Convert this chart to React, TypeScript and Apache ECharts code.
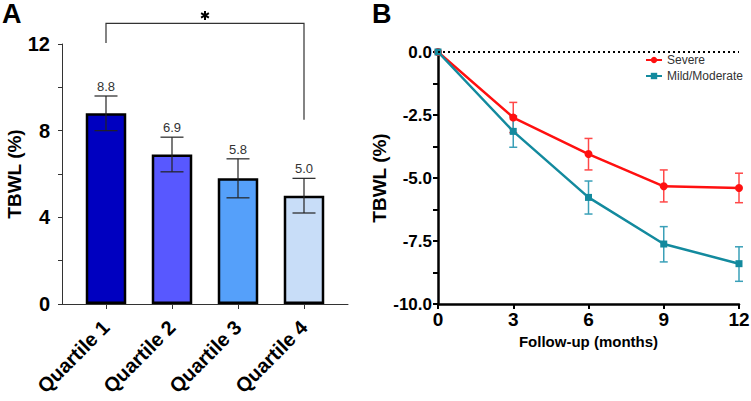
import React, { useEffect, useRef } from "react";
import * as echarts from "echarts";

const categories = ["Quartile 1", "Quartile 2", "Quartile 3", "Quartile 4"];
const quartileMeans = [8.8, 6.9, 5.8, 5.0];
const quartileLow = [8.0, 6.1, 4.9, 4.2];
const quartileHigh = [9.6, 7.7, 6.7, 5.8];
const quartileColors = ["#0000C0", "#5858FF", "#55A0FA", "#C8DDF8"];
const quartileTicks = [0, 4, 8, 12];
// significance bracket: [from index, to index, left leg bottom, bracket top, right leg bottom]
const bracket = [0, 3, 12.05, 12.95, 8.5];

const months = [0, 3, 6, 9, 12];
const severeMean = [0, -2.6, -4.05, -5.33, -5.4];
const severeLow = [0, -3.2, -4.68, -5.95, -5.98];
const severeHigh = [0, -2.0, -3.43, -4.68, -4.81];
const mildMean = [0, -3.15, -5.77, -7.62, -8.4];
const mildLow = [0, -3.78, -6.43, -8.33, -9.1];
const mildHigh = [0, -2.54, -5.12, -6.93, -7.73];
const followTicks = [0, -2.5, -5, -7.5, -10];

const FONT = "Liberation Sans, Arial, Helvetica, sans-serif";

export default function App() {
  const ref = useRef<HTMLDivElement>(null);
  useEffect(() => {
    if (!ref.current) return;
    const chart = echarts.init(ref.current, undefined, { renderer: "svg" });

    const barErr = quartileMeans.map((m, i) => [i, quartileLow[i], quartileHigh[i], m]);
    const sevErr = months.map((m, i) => [m, severeLow[i], severeHigh[i]]).filter((d, i) => i > 0);
    const mildErr = months.map((m, i) => [m, mildLow[i], mildHigh[i]]).filter((d, i) => i > 0);

    const errRender = (color: string, cap: number, width: number, withLabel: boolean) =>
      (params: any, api: any) => {
        const x = api.value(0);
        const lo = api.coord([x, api.value(1)]);
        const hi = api.coord([x, api.value(2)]);
        const children: any[] = [
          { type: "line", shape: { x1: lo[0], y1: lo[1], x2: hi[0], y2: hi[1] }, style: { stroke: color, lineWidth: width } },
          { type: "line", shape: { x1: lo[0] - cap / 2, y1: lo[1], x2: lo[0] + cap / 2, y2: lo[1] }, style: { stroke: color, lineWidth: width } },
          { type: "line", shape: { x1: hi[0] - cap / 2, y1: hi[1], x2: hi[0] + cap / 2, y2: hi[1] }, style: { stroke: color, lineWidth: width } },
        ];
        if (withLabel) {
          children.push({
            type: "text",
            style: {
              x: hi[0], y: hi[1] - 3, text: api.value(3).toFixed(1), align: "center", verticalAlign: "bottom",
              fontSize: 13, fontFamily: FONT, fill: "#333",
            },
          });
        }
        return { type: "group", children };
      };

    const bracketRender = (params: any, api: any) => {
      const a = api.coord([api.value(0), api.value(2)]);
      const t = api.coord([api.value(0), api.value(3)]);
      const b = api.coord([api.value(1), api.value(4)]);
      const mid = (a[0] + b[0]) / 2;
      const star: any[] = [0, 60, 120].map((deg) => {
        const r = (deg * Math.PI) / 180;
        const L = 4.5;
        return {
          type: "line",
          shape: { x1: mid - L * Math.sin(r), y1: t[1] - 8 - L * Math.cos(r), x2: mid + L * Math.sin(r), y2: t[1] - 8 + L * Math.cos(r) },
          style: { stroke: "#000", lineWidth: 2 },
        };
      });
      return {
        type: "group",
        children: [
          {
            type: "polyline",
            shape: { points: [[a[0], a[1]], [a[0], t[1]], [b[0], t[1]], [b[0], b[1]]] },
            style: { stroke: "#333", lineWidth: 1.2, fill: null },
          },
          ...star,
        ],
      };
    };

    const option: any = {
      animation: false,
      textStyle: { fontFamily: FONT },
      grid: [
        { left: 62, top: 44, width: 286, height: 260, outerBoundsMode: "none" },
        { left: 438, top: 52, width: 301, height: 252, outerBoundsMode: "none" },
      ],
      legend: {
        data: ["Severe", "Mild/Moderate"],
        orient: "vertical",
        left: 645,
        top: 54,
        itemWidth: 16,
        itemHeight: 8,
        itemGap: 4,
        padding: 0,
        textStyle: { fontSize: 12, color: "#333", fontFamily: FONT },
      },
      xAxis: [
        {
          type: "value", gridIndex: 0, min: -0.6667, max: 3.6667,
          splitLine: { show: false },
          axisLine: { show: true, onZero: false, lineStyle: { color: "#333", width: 1 } },
          axisTick: { show: true, customValues: [0, 1, 2, 3], length: 5, lineStyle: { color: "#333" } },
          axisLabel: {
            customValues: [0, 1, 2, 3], rotate: 45, margin: 20,
            formatter: (v: number) => categories[Math.round(v)] || "",
            fontSize: 20, fontWeight: "bold", color: "#000", fontFamily: FONT,
          },
        },
        {
          type: "value", gridIndex: 1, min: 0, max: 12, interval: 3,
          splitLine: { show: false },
          axisLine: { show: true, onZero: false, lineStyle: { color: "#000", width: 2.5 } },
          axisTick: { show: true, length: 5, lineStyle: { color: "#000", width: 2 } },
          axisLabel: { fontSize: 19, fontWeight: "bold", color: "#000", margin: 6, fontFamily: FONT },
          name: "Follow-up (months)", nameLocation: "middle", nameGap: 17,
          nameTextStyle: { fontSize: 15, fontWeight: "bold", color: "#000", fontFamily: FONT },
        },
      ],
      yAxis: [
        {
          type: "value", gridIndex: 0, min: 0, max: 12, interval: 2,
          splitLine: { show: false },
          axisLine: { show: true, onZero: false, lineStyle: { color: "#333", width: 1 } },
          axisTick: { show: true, length: 4, lineStyle: { color: "#333" } },
          axisLabel: {
            fontSize: 20, fontWeight: "bold", color: "#000", margin: 12, fontFamily: FONT,
            formatter: (v: number) => (quartileTicks.some((t) => Math.abs(t - v) < 1e-6) ? String(v) : ""),
          },
          name: "TBWL (%)", nameLocation: "middle", nameGap: 35,
          nameTextStyle: { fontSize: 19, fontWeight: "bold", color: "#000", fontFamily: FONT },
        },
        {
          type: "value", gridIndex: 1, min: -10, max: 0, interval: 1.25,
          splitLine: { show: false },
          axisLine: { show: true, onZero: false, lineStyle: { color: "#000", width: 2.5 } },
          axisTick: { show: true, length: 5, lineStyle: { color: "#000", width: 2 } },
          axisLabel: {
            fontSize: 17, fontWeight: "bold", color: "#000", margin: 6, fontFamily: FONT,
            formatter: (v: number) => (followTicks.some((t) => Math.abs(t - v) < 1e-6) ? v.toFixed(1) : ""),
          },
          name: "TBWL (%)", nameLocation: "middle", nameGap: 45,
          nameTextStyle: { fontSize: 19, fontWeight: "bold", color: "#000", fontFamily: FONT },
        },
      ],
      graphic: [
        { type: "text", left: 2, top: 0, style: { text: "A", fontSize: 27, fontWeight: "bold", fontFamily: FONT, fill: "#000" } },
        { type: "text", left: 372, top: 0, style: { text: "B", fontSize: 27, fontWeight: "bold", fontFamily: FONT, fill: "#000" } },
      ],
      series: [
        {
          type: "bar", xAxisIndex: 0, yAxisIndex: 0, barWidth: 40.5,
          data: quartileMeans.map((v, i) => ({
            value: [i, v],
            itemStyle: { color: quartileColors[i], borderColor: "#000", borderWidth: 2.5 },
          })),
        },
        {
          type: "custom", xAxisIndex: 0, yAxisIndex: 0, data: barErr, z: 5,
          renderItem: errRender("#222", 23, 1.2, true),
        },
        {
          type: "custom", xAxisIndex: 0, yAxisIndex: 0, data: [bracket], z: 5, clip: false,
          renderItem: bracketRender,
        },
        {
          name: "Severe", type: "line", xAxisIndex: 1, yAxisIndex: 1,
          data: months.map((m, i) => [m, severeMean[i]]),
          color: "#FF1010",
          lineStyle: { width: 2.5, color: "#FF1010" },
          symbol: "circle", symbolSize: 8,
          itemStyle: { color: "#FF1010" },
          z: 4,
          markLine: {
            silent: true, symbol: "none", label: { show: false },
            lineStyle: { type: [2, 3], color: "#000", width: 2 },
            data: [{ yAxis: 0 }],
          },
        },
        {
          name: "Mild/Moderate", type: "line", xAxisIndex: 1, yAxisIndex: 1,
          data: months.map((m, i) => [m, mildMean[i]]),
          color: "#138A9E",
          lineStyle: { width: 2.5, color: "#138A9E" },
          symbol: "rect", symbolSize: 7,
          itemStyle: { color: "#138A9E" },
          z: 4,
        },
        {
          type: "custom", xAxisIndex: 1, yAxisIndex: 1, data: sevErr, z: 3,
          renderItem: errRender("#FF4848", 8, 1.5, false),
        },
        {
          type: "custom", xAxisIndex: 1, yAxisIndex: 1, data: mildErr, z: 3,
          renderItem: errRender("#3AA0B8", 8, 1.5, false),
        },
      ],
    };
    chart.setOption(option);

    return () => chart.dispose();
  }, []);
  return <div ref={ref} style={{ position: "fixed", left: 0, top: 0, width: 751, height: 401, background: "#fff" }} />;
}
